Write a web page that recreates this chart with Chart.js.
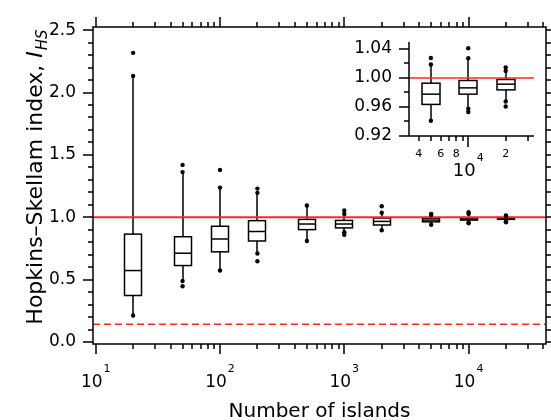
<!DOCTYPE html>
<html><head><meta charset="utf-8">
<script src="https://cdn.jsdelivr.net/npm/chart.js@4"></script>
<style>
html,body{margin:0;padding:0;background:#fff;}
#wrap{position:relative;width:551px;height:420px;overflow:hidden;}
#main{position:absolute;left:0;top:0;}
#inset{position:absolute;left:330px;top:30px;}
</style></head><body>
<div id="wrap"><canvas id="main" width="551" height="420"></canvas><canvas id="inset" width="215" height="160"></canvas></div>
<script>
// ---- data ----
const islands     = [20, 50, 100, 200, 500, 1000, 2000, 5000, 10000, 20000];
const whiskerLow  = [0.213, 0.489, 0.573, 0.710, 0.810, 0.881, 0.896, 0.9407, 0.9572, 0.9674];
const q1          = [0.373, 0.613, 0.723, 0.810, 0.901, 0.915, 0.938, 0.9633, 0.9775, 0.9834];
const median      = [0.573, 0.712, 0.826, 0.886, 0.946, 0.946, 0.967, 0.9775, 0.9862, 0.9913];
const q3          = [0.865, 0.844, 0.928, 0.973, 0.983, 0.975, 0.994, 0.9927, 0.9964, 0.9978];
const whiskerHigh = [2.132, 1.362, 1.238, 1.196, 1.094, 1.026, 1.036, 1.0185, 1.0272, 1.0097];
const extremes    = [
  [2.318, 2.132, 0.213],
  [1.420, 1.362, 0.489, 0.447],
  [1.380, 1.238, 0.573],
  [1.230, 1.196, 0.710, 0.647],
  [1.094, 0.810],
  [1.054, 1.026, 0.881, 0.860],
  [1.088, 1.036, 0.896],
  [1.0276, 1.0185, 0.9407],
  [1.041, 1.0272, 0.9572, 0.9527],
  [1.0143, 1.0097, 0.9674, 0.9605]
];
const completeSpatialRandomness = 1.0;   // solid red line
const regularLimit = 0.142;              // dashed red line
const yTickLabels = ['0.0', '0.5', '1.0', '1.5', '2.0', '2.5'];
const xTickExponents = [1, 2, 3, 4];
const insetIndices = [7, 8, 9];
const insetYTickLabels = ['0.92', '0.96', '1.00', '1.04'];
const insetXTickValues = [4000, 6000, 8000, 20000];
const insetXTickLabels = ['4', '6', '8', '2'];

// ---- styling ----
const FONT = '"DejaVu Sans", sans-serif';
const RED = 'rgb(255,38,38)';
const LW = 1.5;
const X_MIN = 9.513, X_MAX = 41950, Y_MIN = -0.0158, Y_MAX = 2.5237;
const IX_MIN = 3334, IX_MAX = 33790, IY_MIN = 0.92, IY_MAX = 1.0501;

function dotData(idxs) {
  const pts = [];
  idxs.forEach(i => extremes[i].forEach(v => pts.push({x: islands[i], y: v})));
  return pts;
}
function hline(v, x0, x1) { return [{x: x0, y: v}, {x: x1, y: v}]; }

function drawBoxes(chart, idxs, boxW) {
  const {ctx, scales: {x, y}} = chart;
  ctx.save();
  ctx.strokeStyle = '#000';
  ctx.lineWidth = LW;
  idxs.forEach(i => {
    const cx = Math.round(x.getPixelForValue(islands[i]));
    const yl = y.getPixelForValue(whiskerLow[i]);
    const yb = y.getPixelForValue(q1[i]);
    const ym = y.getPixelForValue(median[i]);
    const yt = y.getPixelForValue(q3[i]);
    const yh = y.getPixelForValue(whiskerHigh[i]);
    ctx.beginPath();
    ctx.moveTo(cx, yh); ctx.lineTo(cx, yt);
    ctx.moveTo(cx, yb); ctx.lineTo(cx, yl);
    ctx.stroke();
    ctx.fillStyle = '#fff';
    ctx.fillRect(cx - boxW / 2, yt, boxW, yb - yt);
    ctx.strokeRect(cx - boxW / 2, yt, boxW, yb - yt);
    ctx.beginPath();
    ctx.moveTo(cx - boxW / 2, ym); ctx.lineTo(cx + boxW / 2, ym);
    ctx.stroke();
  });
  ctx.restore();
}

function logTicks(scale) {
  const out = [];
  for (let e = 0; e <= 6; e++) for (let m = 1; m <= 9; m++) {
    const v = m * Math.pow(10, e);
    if (v >= scale.min && v <= scale.max) out.push({v, major: m === 1});
  }
  return out;
}

function powerLabel(ctx, cx, baseY, expY, exp, baseSize, expSize) {
  ctx.font = baseSize + 'px ' + FONT;
  const wb = ctx.measureText('10').width;
  ctx.font = expSize + 'px ' + FONT;
  const we = ctx.measureText(String(exp)).width;
  const x0 = cx - (wb + we + 1) / 2;
  ctx.textAlign = 'left';
  ctx.textBaseline = 'alphabetic';
  ctx.font = baseSize + 'px ' + FONT;
  ctx.fillText('10', x0, baseY);
  ctx.font = expSize + 'px ' + FONT;
  ctx.fillText(String(exp), x0 + wb + 1, expY);
}

const mainPlugin = {
  id: 'mainDecor',
  beforeDatasetsDraw(chart) { drawBoxes(chart, islands.map((_, i) => i), 17); },
  afterDraw(chart) {
    const {ctx, chartArea: ca, scales: {x, y}} = chart;
    ctx.save();
    ctx.strokeStyle = '#000';
    ctx.lineWidth = LW;
    const L = Math.round(ca.left), R = Math.round(ca.right);
    const T = Math.round(ca.top), B = Math.round(ca.bottom);
    ctx.strokeRect(L, T, R - L, B - T);
    ctx.beginPath();
    logTicks(x).forEach(t => {
      const px = Math.round(x.getPixelForValue(t.v));
      const len = t.major ? 10 : 5;
      ctx.moveTo(px, B); ctx.lineTo(px, B + len);
      ctx.moveTo(px, T); ctx.lineTo(px, T - len);
    });
    y.ticks.forEach(t => {
      const py = Math.round(y.getPixelForValue(t.value));
      const major = Math.abs(t.value * 2 - Math.round(t.value * 2)) < 1e-6;
      const len = major ? 10 : 5;
      ctx.moveTo(L, py); ctx.lineTo(L - len, py);
      ctx.moveTo(R, py); ctx.lineTo(R + len, py);
    });
    ctx.stroke();
    ctx.fillStyle = '#000';
    xTickExponents.forEach(e => {
      const px = x.getPixelForValue(Math.pow(10, e));
      powerLabel(ctx, px, ca.bottom + 43, ca.bottom + 28, e, 17, 11);
    });
    // x title
    ctx.font = '20px ' + FONT;
    ctx.textAlign = 'center';
    ctx.textBaseline = 'alphabetic';
    ctx.fillText('Number of islands', (ca.left + ca.right) / 2, 417);
    // y title
    const s1 = 'Hopkins\u2013Skellam index, ';
    ctx.font = '22px ' + FONT;
    const w1 = ctx.measureText(s1).width;
    ctx.font = 'italic 22px ' + FONT;
    const w2 = ctx.measureText('I').width;
    ctx.font = 'italic 15px ' + FONT;
    const w3 = ctx.measureText('HS').width;
    const total = w1 + w2 + 1 + w3;
    ctx.translate(42, 177 + total / 2);
    ctx.rotate(-Math.PI / 2);
    ctx.textAlign = 'left';
    ctx.font = '22px ' + FONT;
    ctx.fillText(s1, 0, 0);
    ctx.font = 'italic 22px ' + FONT;
    ctx.fillText('I', w1, 0);
    ctx.font = 'italic 15px ' + FONT;
    ctx.fillText('HS', w1 + w2 + 1, 5);
    ctx.restore();
  }
};

new Chart(document.getElementById('main'), {
  type: 'scatter',
  data: {
    datasets: [
      {data: dotData(islands.map((_, i) => i)), pointRadius: 2.2, pointBackgroundColor: '#000', pointBorderWidth: 0, showLine: false},
      {data: hline(completeSpatialRandomness, X_MIN, X_MAX), showLine: true, borderColor: RED, borderWidth: 2, pointRadius: 0},
      {data: hline(regularLimit, X_MIN, X_MAX), showLine: true, borderColor: RED, borderWidth: 1.6, borderDash: [7, 4], pointRadius: 0}
    ]
  },
  options: {
    responsive: false, animation: false, devicePixelRatio: 1,
    layout: {padding: {left: 0, top: 22, right: 5, bottom: 76}},
    plugins: {legend: {display: false}, tooltip: {enabled: false}},
    scales: {
      x: {type: 'logarithmic', min: X_MIN, max: X_MAX, display: false},
      y: {
        type: 'linear', min: Y_MIN, max: Y_MAX,
        grid: {display: false, drawTicks: false}, border: {display: false},
        afterFit(scale) { scale.width = 93; },
        ticks: {
          stepSize: 0.1, includeBounds: false, autoSkip: false, padding: 17,
          color: '#000', font: {family: FONT, size: 17},
          callback(v) {
            const k = Math.round(v * 2);
            if (Math.abs(v * 2 - k) > 1e-6 || k < 0 || k >= yTickLabels.length) return '';
            return yTickLabels[k];
          }
        }
      }
    }
  },
  plugins: [mainPlugin]
});

const insetPlugin = {
  id: 'insetDecor',
  beforeDatasetsDraw(chart) { drawBoxes(chart, insetIndices, 18); },
  afterDraw(chart) {
    const {ctx, chartArea: ca, scales: {x, y}} = chart;
    ctx.save();
    ctx.strokeStyle = '#000';
    ctx.lineWidth = LW;
    const L = Math.round(ca.left), B = Math.round(ca.bottom);
    ctx.beginPath();
    ctx.moveTo(L, Math.round(ca.top)); ctx.lineTo(L, B); ctx.lineTo(Math.round(ca.right), B);
    logTicks(x).forEach(t => {
      const px = Math.round(x.getPixelForValue(t.v));
      ctx.moveTo(px, B); ctx.lineTo(px, B + (t.major ? 11 : 5));
    });
    for (let k = 0; k <= 6; k++) {
      const v = 0.92 + k * 0.02;
      const py = Math.round(y.getPixelForValue(v));
      ctx.moveTo(L, py); ctx.lineTo(L - (k % 2 === 0 ? 10 : 5), py);
    }
    ctx.stroke();
    ctx.fillStyle = '#000';
    ctx.font = '17px ' + FONT;
    ctx.textAlign = 'right';
    ctx.textBaseline = 'middle';
    insetYTickLabels.forEach((lab, k) => {
      ctx.fillText(lab, ca.left - 17, y.getPixelForValue(parseFloat(lab)));
    });
    ctx.font = '11px ' + FONT;
    ctx.textAlign = 'center';
    ctx.textBaseline = 'alphabetic';
    insetXTickValues.forEach((v, k) => {
      ctx.fillText(insetXTickLabels[k], x.getPixelForValue(v), ca.bottom + 21);
    });
    powerLabel(ctx, x.getPixelForValue(10000), ca.bottom + 40, ca.bottom + 25, 4, 18, 11);
    ctx.restore();
  }
};

new Chart(document.getElementById('inset'), {
  type: 'scatter',
  data: {
    datasets: [
      {data: dotData(insetIndices), pointRadius: 2.2, pointBackgroundColor: '#000', pointBorderWidth: 0, showLine: false},
      {data: hline(completeSpatialRandomness, IX_MIN, IX_MAX), showLine: true, borderColor: RED, borderWidth: 1.5, pointRadius: 0}
    ]
  },
  options: {
    responsive: false, animation: false, devicePixelRatio: 1,
    layout: {padding: {left: 79, top: 11.7, right: 11, bottom: 54.3}},
    plugins: {legend: {display: false}, tooltip: {enabled: false}},
    scales: {
      x: {type: 'logarithmic', min: IX_MIN, max: IX_MAX, display: false},
      y: {type: 'linear', min: IY_MIN, max: IY_MAX, display: false}
    }
  },
  plugins: [insetPlugin]
});
</script>
</body></html>
